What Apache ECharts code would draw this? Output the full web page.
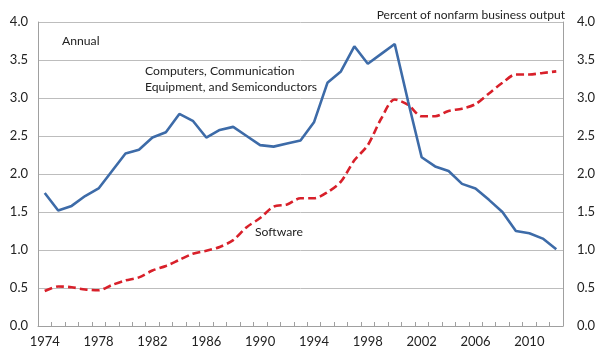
<!DOCTYPE html>
<html>
<head>
<meta charset="utf-8">
<script src="https://cdn.jsdelivr.net/npm/echarts@6/dist/echarts.min.js"></script>
<style>html,body{margin:0;padding:0;background:#fff}#c{width:600px;height:360px}</style>
</head>
<body>
<div id="c"></div>
<script>
var years = [];
for (var y = 1974; y <= 2012; y++) years.push(String(y));
var computers = [1.75,1.52,1.58,1.71,1.81,2.04,2.27,2.32,2.48,2.55,2.79,2.70,2.48,2.58,2.62,2.50,2.38,2.36,2.40,2.44,2.68,3.20,3.35,3.68,3.45,3.58,3.71,2.95,2.22,2.10,2.04,1.87,1.81,1.66,1.50,1.25,1.22,1.15,1.01];
var software = [0.46,0.52,0.51,0.48,0.47,0.54,0.60,0.64,0.73,0.79,0.87,0.95,0.99,1.04,1.13,1.30,1.42,1.57,1.60,1.68,1.68,1.76,1.90,2.18,2.38,2.73,2.98,2.91,2.76,2.76,2.83,2.86,2.92,3.06,3.20,3.31,3.31,3.33,3.35];
var yTicks = [0,0.5,1,1.5,2,2.5,3,3.5,4];

var font = 'Lato, "Open Sans", sans-serif';
var chart = echarts.init(document.getElementById('c'));
function yAxisBase(margin) {
  return {
    type: 'value', min: yTicks[0], max: yTicks[yTicks.length-1], interval: 0.5,
    axisLabel: { formatter: function(v){ return v.toFixed(1); }, color: '#222', fontSize: 13, fontFamily: font, margin: margin },
    axisLine: { show: true, lineStyle: { color: '#a0a0a0', width: 1 } },
    axisTick: { show: false }
  };
}
chart.setOption({
  animation: false,
  title: { text: 'Percent of nonfarm business output', right: 30, top: 4,
    textStyle: { fontSize: 12, fontWeight: 'normal', color: '#222', fontFamily: font } },
  grid: { left: 38, right: 37, top: 22, bottom: 34 },
  xAxis: {
    type: 'category', data: years, boundaryGap: true,
    axisLine: { lineStyle: { color: '#a0a0a0', width: 1 } },
    axisTick: { show: true, inside: true, length: 4, interval: 0, lineStyle: { color: '#a0a0a0' } },
    axisLabel: { interval: 3, color: '#222', fontSize: 13, fontFamily: font, margin: 9 }
  },
  yAxis: [
    Object.assign(yAxisBase(10), { position: 'left', splitLine: { show: true, lineStyle: { color: '#bdbdbd', width: 1 } } }),
    Object.assign(yAxisBase(14), { position: 'right', splitLine: { show: false } })
  ],
  series: [
    { name: 'Computers', type: 'line', data: computers, symbol: 'none',
      lineStyle: { color: '#3d6ba8', width: 2.6 }, z: 3 },
    { name: 'Software', type: 'line', data: software, symbol: 'none', smooth: 0.3,
      lineStyle: { color: '#d8202a', width: 2.6, type: [8, 4] }, z: 2 }
  ],
  graphic: [
    { type: 'text', left: 62, top: 35, style: { text: 'Annual', fontSize: 12.2, fill: '#222', fontFamily: font } },
    { type: 'text', left: 145, top: 63, style: { text: 'Computers, Communication\nEquipment, and Semiconductors', fontSize: 12.2, lineHeight: 16, fill: '#222', fontFamily: font } },
    { type: 'text', left: 255, top: 226, style: { text: 'Software', fontSize: 12.2, fill: '#222', fontFamily: font } }
  ]
});
</script>
</body>
</html>
